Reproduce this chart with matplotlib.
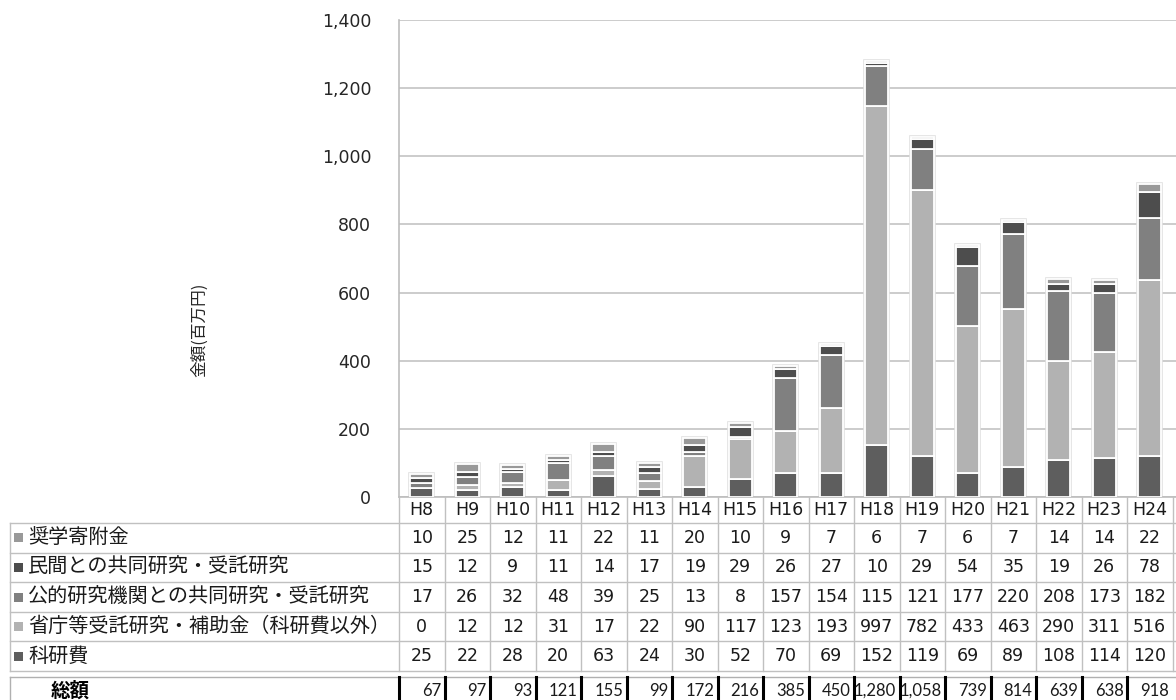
import matplotlib
matplotlib.use("Agg")
import matplotlib.pyplot as plt
from matplotlib.patches import Rectangle
from matplotlib.lines import Line2D
from matplotlib.transforms import blended_transform_factory
import numpy as np

plt.rcParams['font.family'] = ['Noto Sans CJK JP', 'DejaVu Sans']

# 年度
years = ["H8", "H9", "H10", "H11", "H12", "H13", "H14", "H15", "H16",
         "H17", "H18", "H19", "H20", "H21", "H22", "H23", "H24"]

# 区分別の金額（百万円）
kakenhi = [25, 22, 28, 20, 63, 24, 30, 52, 70, 69, 152, 119, 69, 89, 108, 114, 120]
shocho = [0, 12, 12, 31, 17, 22, 90, 117, 123, 193, 997, 782, 433, 463, 290, 311, 516]
koteki = [17, 26, 32, 48, 39, 25, 13, 8, 157, 154, 115, 121, 177, 220, 208, 173, 182]
minkan = [15, 12, 9, 11, 14, 17, 19, 29, 26, 27, 10, 29, 54, 35, 19, 26, 78]
shogaku = [10, 25, 12, 11, 22, 11, 20, 10, 9, 7, 6, 7, 6, 7, 14, 14, 22]
totals = [67, 97, 93, 121, 155, 99, 172, 216, 385, 450, 1280, 1058, 739, 814, 639, 638, 918]

label_kakenhi = "科研費"
label_shocho = "省庁等受託研究・補助金（科研費以外）"
label_koteki = "公的研究機関との共同研究・受託研究"
label_minkan = "民間との共同研究・受託研究"
label_shogaku = "奨学寄附金"
total_label = "総額"
ylabel = "金額(百万円)"

yticks = [0, 200, 400, 600, 800, 1000, 1200, 1400]

# 積み上げ順（下から）
stack = [
    (label_kakenhi, kakenhi, "#5e5e5e"),
    (label_shocho, shocho, "#b2b2b2"),
    (label_koteki, koteki, "#808080"),
    (label_minkan, minkan, "#4d4d4d"),
    (label_shogaku, shogaku, "#999999"),
]

num_font = ["DejaVu Sans"]

W, H = 1176, 700
fig = plt.figure(figsize=(W / 100, H / 100), dpi=100)
fig.patch.set_facecolor("white")


def fy(y):
    """pixel row (from top) -> figure fraction"""
    return 1 - y / H


def fx(x):
    return x / W


ax_left, ax_right, ax_top, ax_bottom = 399, 1176, 20, 497
col_w = 45.5
ax = fig.add_axes([fx(ax_left), fy(ax_bottom), fx(ax_right - ax_left),
                   (ax_bottom - ax_top) / H])
n = len(years)
x = np.arange(n)
ax.set_xlim(-0.5, -0.5 + (ax_right - ax_left) / col_w)
ax.set_ylim(0, 1400)
ax.set_yticks(yticks)
ax.set_yticklabels([f"{v:,}" for v in yticks], fontsize=12.5, color="#262626",
                   family=num_font)
ax.tick_params(axis="y", length=0, pad=20)
ax.set_xticks([])
ax.yaxis.grid(True, color="#c4c4c4", lw=1.2, zorder=0)
ax.set_axisbelow(True)
for s in ["top", "right"]:
    ax.spines[s].set_visible(False)
ax.spines["left"].set_color("#bdbdbd")
ax.spines["bottom"].set_color("#bdbdbd")
ax.spines["left"].set_linewidth(1.2)
ax.spines["bottom"].set_linewidth(1.2)

# 棒の外側の淡い縁取り
sums = np.sum([np.array(v) for _, v, _ in stack], axis=0)
ax.bar(x, sums, width=0.5, facecolor="none", edgecolor="#e0e0e0", lw=2.6, zorder=2)
bottom = np.zeros(n)
for name, vals, color in stack:
    v = np.array(vals, dtype=float)
    ax.bar(x, v, bottom=bottom, width=0.5, color=color, edgecolor="white",
           lw=1.3, zorder=3)
    bottom += v

fig.text(fx(200), fy(330), ylabel, rotation=90, ha="center", va="center",
         fontsize=12, color="#262626")

# ---- データテーブル ----
tb = blended_transform_factory(ax.transData, fig.transFigure)
grid_c = "#c0c0c0"


def hline(x0, x1, y, color=grid_c, lw=1.0):
    fig.add_artist(Line2D([fx(x0), fx(x1)], [fy(y), fy(y)], color=color, lw=lw,
                          transform=fig.transFigure))


def vline_data(xd, y0, y1, color=grid_c, lw=1.0):
    fig.add_artist(Line2D([xd, xd], [fy(y0), fy(y1)], color=color, lw=lw,
                          transform=tb, clip_on=False))


header_top, header_bot = 497, 523
row_h = 29.6
rows = [
    (label_shogaku, shogaku, "#999999"),
    (label_minkan, minkan, "#4d4d4d"),
    (label_koteki, koteki, "#808080"),
    (label_shocho, shocho, "#b2b2b2"),
    (label_kakenhi, kakenhi, "#5e5e5e"),
]
table_left = 10
table_bot = header_bot + row_h * len(rows)

# 罫線
for k in range(len(rows) + 1):
    hline(table_left, W, header_bot + k * row_h)
fig.add_artist(Line2D([fx(table_left)] * 2, [fy(header_bot), fy(table_bot)],
                      color=grid_c, lw=1.0, transform=fig.transFigure))
for k in range(n + 1):
    vline_data(k - 0.5, header_top, table_bot)

# 見出し行
for i, yr in enumerate(years):
    fig.text(i, fy((header_top + header_bot) / 2), yr, transform=tb,
             ha="center", va="center", fontsize=12.5, color="#1a1a1a",
             family=num_font)

# 各系列の行
for r, (name, vals, color) in enumerate(rows):
    cy = header_bot + (r + 0.5) * row_h
    fig.add_artist(Rectangle((fx(14), fy(cy + 4.5)), 9 / W, 9 / H,
                             transform=fig.transFigure, facecolor=color,
                             edgecolor="none"))
    fig.text(fx(28), fy(cy), name, ha="left", va="center", fontsize=14.5,
             color="#1a1a1a")
    for i, v in enumerate(vals):
        fig.text(i, fy(cy), f"{v:,}", transform=tb, ha="center", va="center",
                 fontsize=12.5, color="#1a1a1a", family=num_font)

# 総額の行
tot_top = 677
hline(table_left, W, tot_top, color="#b0b0b0")
fig.add_artist(Line2D([fx(table_left)] * 2, [fy(tot_top), 0], color="#b0b0b0",
                      lw=1.0, transform=fig.transFigure))
for k in range(n):
    vline_data(k - 0.5, tot_top, H, color="black", lw=2.2)
fig.text(fx(70), fy(691), total_label, ha="center", va="center", fontsize=14,
         fontweight="bold", color="black")
for i, v in enumerate(totals):
    fig.text(i + 0.5 - 3.5 / col_w, fy(691), f"{v:,}", transform=tb, ha="right",
             va="center", fontsize=12, color="#1a1a1a",
             family=["Lato", "DejaVu Sans"])

fig.savefig("out.png", dpi=100, facecolor="white")
